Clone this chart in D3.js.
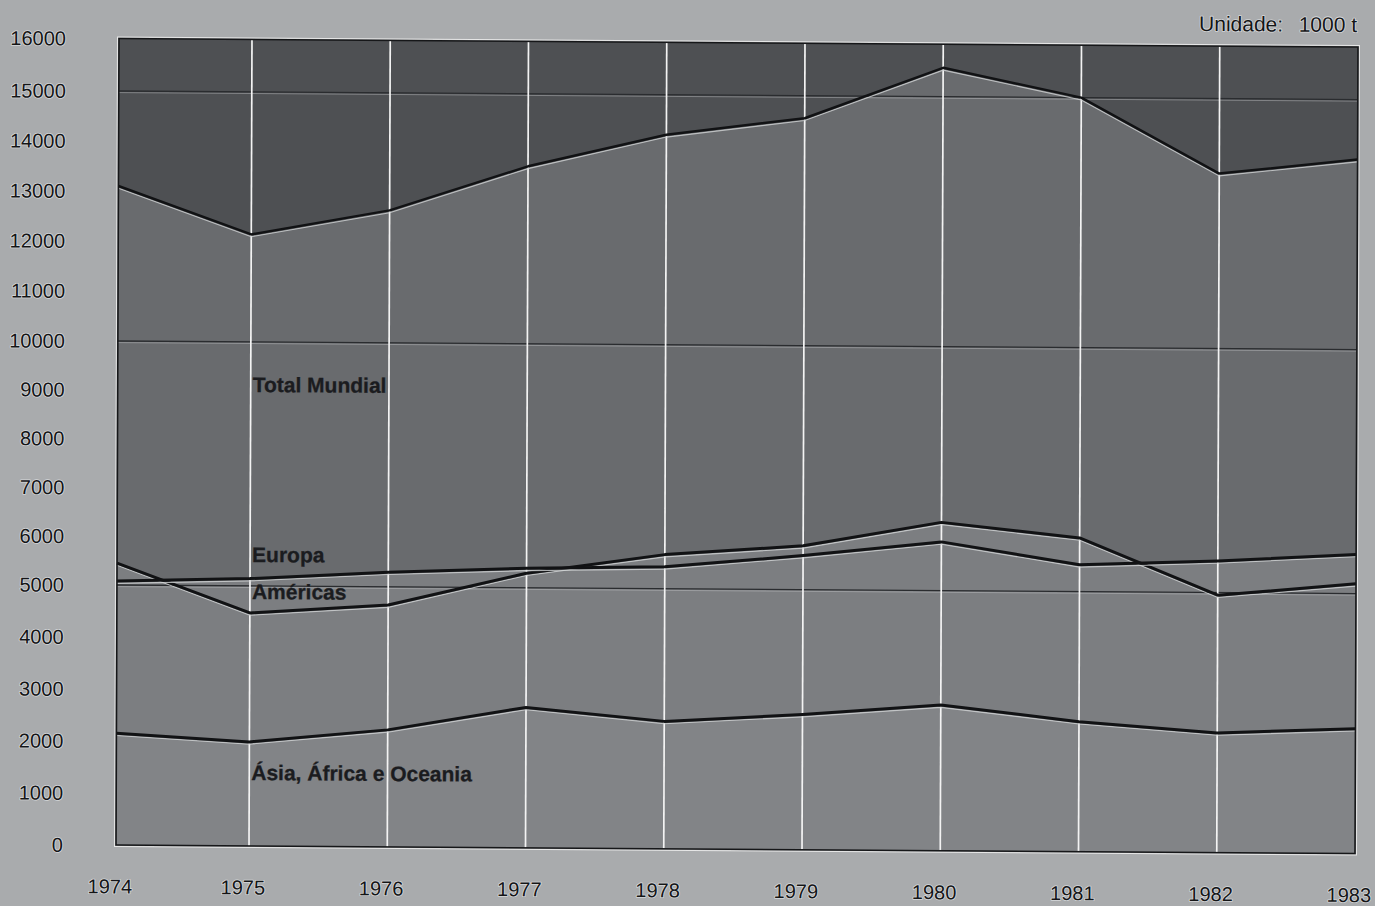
<!DOCTYPE html>
<html><head><meta charset="utf-8">
<script src="https://cdn.jsdelivr.net/npm/d3@7"></script>
<style>html,body{margin:0;padding:0;background:#a9abad;}svg{display:block}</style>
</head><body>
<svg id="c" width="1375" height="906"></svg>
<script>
// ---- data (unit: 1000 t) ----
const years = [1974, 1975, 1976, 1977, 1978, 1979, 1980, 1981, 1982, 1983];
const totalMundial = [13100, 12150, 12650, 13550, 14200, 14550, 15550, 15000, 13500, 13800];
const europa = [5080, 5150, 5300, 5400, 5450, 5700, 6000, 5550, 5650, 5800];
const americas = [5450, 4480, 4650, 5300, 5700, 5900, 6400, 6100, 4950, 5200];
const asiaAfricaOceania = [2150, 2000, 2250, 2700, 2450, 2600, 2800, 2500, 2300, 2400];
const yTicks = [0, 1000, 2000, 3000, 4000, 5000, 6000, 7000, 8000, 9000, 10000, 11000, 12000, 13000, 14000, 15000, 16000];
const gridValues = [5000, 10000, 15000];
const labelTotal = "Total Mundial";
const labelEuropa = "Europa";
const labelAmericas = "Américas";
const labelAsia = "Ásia, África e Oceania";
const unitName = "Unidade:";
const unitValue = "1000 t";

// ---- scales ----
const x = d3.scaleLinear().domain([1974, 1975, 1983]).range([116, 249, 1355]);
const y = d3.scaleLinear().domain([0, 5000, 10000, 15000, 16000]).range([845, 585, 341, 91, 38.5]);
const x0 = x(years[0]), x1 = x(years[years.length - 1]);
const yTop = y(16000), yBot = y(0);

const svg = d3.select("#c");
// slight scan skew of the printed page
const g = svg.append("g").attr("transform", "matrix(1,0.0069,-0.0037,1,3.13,-0.80)");

const pts = arr => years.map((yr, i) => [yr, arr[i]]);
const area = d3.area().x(d => x(d[0])).y0(yBot).y1(d => y(d[1]));
const line = d3.line().x(d => x(d[0])).y(d => y(d[1]));

// plot background (above total)
g.append("rect").attr("x", x0).attr("y", yTop).attr("width", x1 - x0).attr("height", yBot - yTop).attr("fill", "#4e5053");
g.append("path").attr("d", area(pts(totalMundial))).attr("fill", "#696b6e");
g.append("path").attr("d", area(pts(europa))).attr("fill", "#7c7e81");
g.append("path").attr("d", area(pts(americas))).attr("fill", "#7c7e81");
g.append("path").attr("d", area(pts(asiaAfricaOceania))).attr("fill", "#828487");

// horizontal gridlines
gridValues.forEach(v => {
  g.append("line").attr("x1", x0).attr("x2", x1).attr("y1", y(v) + 1.6).attr("y2", y(v) + 1.6)
    .attr("stroke", "#c4c6c8").attr("stroke-width", 0.8).attr("opacity", 0.55);
  g.append("line").attr("x1", x0).attr("x2", x1).attr("y1", y(v)).attr("y2", y(v))
    .attr("stroke", "#2a2c2f").attr("stroke-width", 1.3);
});

// vertical white year lines
years.slice(1, -1).forEach(yr => {
  g.append("line").attr("x1", x(yr)).attr("x2", x(yr)).attr("y1", yTop).attr("y2", yBot)
    .attr("stroke", "#f3f3f3").attr("stroke-width", 1.7);
});

// data lines with light printing edge beneath
[[asiaAfricaOceania, 3], [americas, 3], [europa, 3], [totalMundial, 2.5]].forEach(([arr, w]) => {
  g.append("path").attr("d", line(pts(arr))).attr("transform", "translate(0,2.3)")
    .attr("fill", "none").attr("stroke", "#d2d4d6").attr("stroke-width", 1.1).attr("opacity", 0.8);
  g.append("path").attr("d", line(pts(arr)))
    .attr("fill", "none").attr("stroke", "#111214").attr("stroke-width", w).attr("stroke-linejoin", "round");
});

// frame
g.append("rect").attr("x", x0 - 1.5).attr("y", yTop - 1.5).attr("width", x1 - x0 + 3).attr("height", yBot - yTop + 3)
  .attr("fill", "none").attr("stroke", "#e6e6e6").attr("stroke-width", 1);
g.append("rect").attr("x", x0).attr("y", yTop).attr("width", x1 - x0).attr("height", yBot - yTop)
  .attr("fill", "none").attr("stroke", "#161719").attr("stroke-width", 1.6);

const font = "'Liberation Sans', Arial, Helvetica, sans-serif";
function halo(sel) {
  return sel.attr("stroke", "#d6d8da").attr("stroke-width", 1.6).attr("paint-order", "stroke").attr("stroke-linejoin", "round");
}

// y tick labels
g.append("g").selectAll("text").data(yTicks).join("text")
  .attr("x", 63).attr("y", d => y(d)).attr("dy", "0.36em")
  .attr("text-anchor", "end").attr("font-family", font).attr("font-size", 20)
  .attr("fill", "#141517").text(d => d).call(halo);

// x tick labels
g.append("g").selectAll("text").data(years).join("text")
  .attr("x", d => x(d) - 6).attr("y", 893.5)
  .attr("text-anchor", "middle").attr("font-family", font).attr("font-size", 20)
  .attr("fill", "#141517").text(d => d).call(halo);

// unit
g.append("text").attr("x", 1196).attr("y", 23.5).attr("font-family", font).attr("font-size", 21)
  .attr("fill", "#141517").text(unitName).call(halo);
g.append("text").attr("x", 1354).attr("y", 23.5).attr("text-anchor", "end").attr("font-family", font).attr("font-size", 21)
  .attr("fill", "#141517").text(unitValue).call(halo);

// series labels
const lx = x(1975) + 2;
[[labelTotal, 391], [labelEuropa, 561], [labelAmericas, 598], [labelAsia, 779]].forEach(([t, by]) => {
  g.append("text").attr("x", lx).attr("y", by).attr("font-family", font).attr("font-size", 21)
    .attr("font-weight", "bold").attr("fill", "#1b1c1f")
    .attr("stroke", "#1b1c1f").attr("stroke-width", 0.3).text(t);
});
</script>
</body></html>
